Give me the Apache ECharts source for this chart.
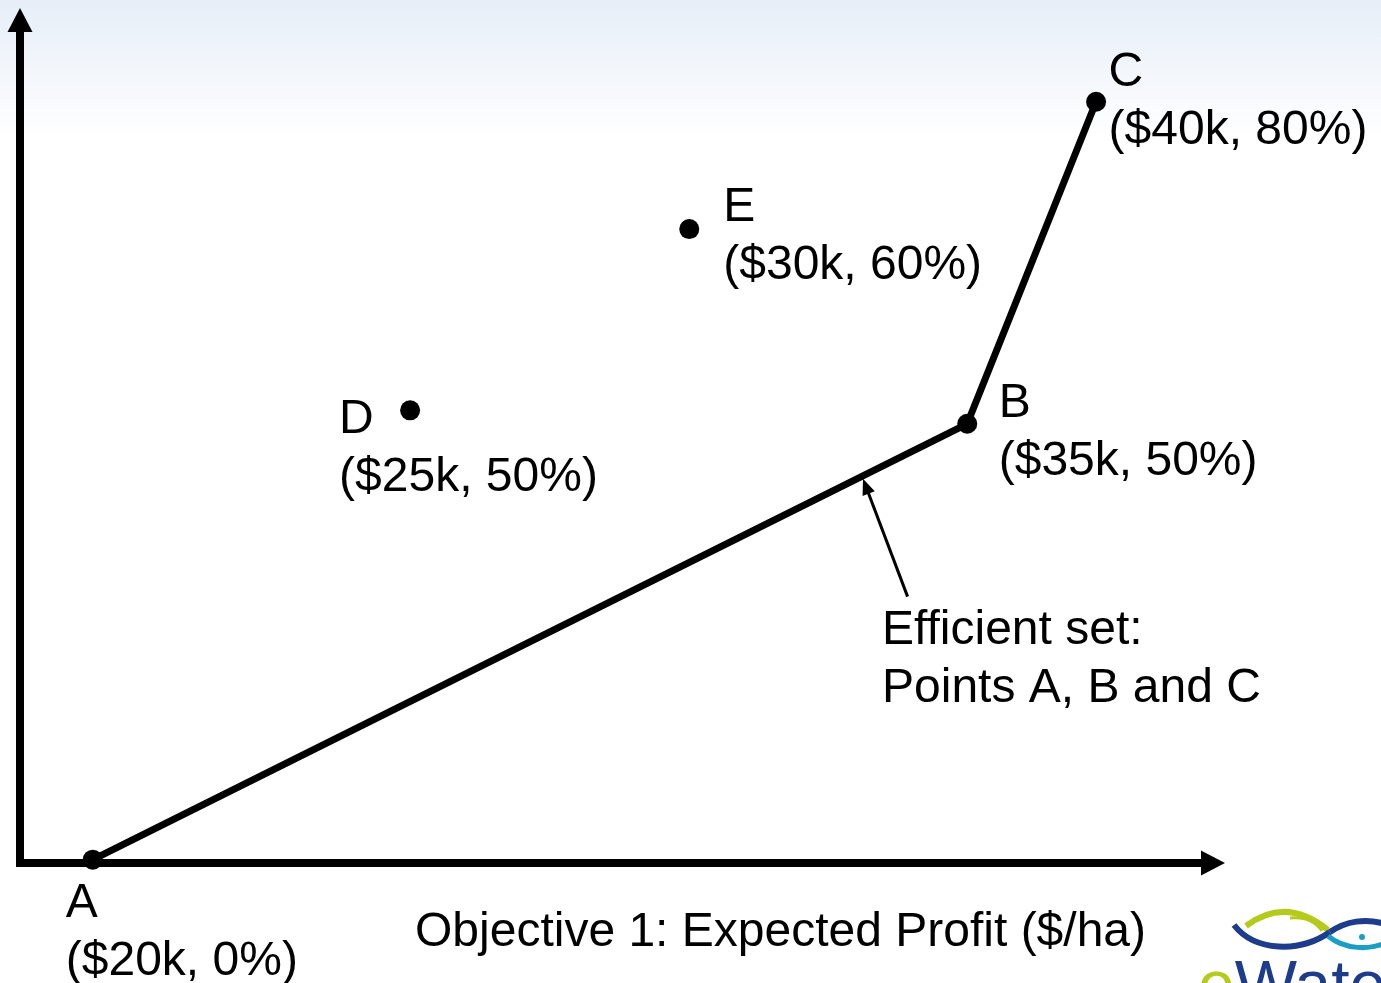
<!DOCTYPE html>
<html>
<head>
<meta charset="utf-8">
<title>Efficient set</title>
<script src="https://cdn.jsdelivr.net/npm/echarts@6/dist/echarts.min.js"></script>
<style>
  html, body { margin: 0; padding: 0; background: #fff; }
  #chart { width: 1381px; height: 983px; }
</style>
</head>
<body>
<div id="chart"></div>
<script>
// Sketch positions (0-100 on each axis, the drawing is schematic, not to scale)
const efficientNames = ['A', 'B', 'C'];
const efficientTexts = ['($20k, 0%)', '($35k, 50%)', '($40k, 80%)'];
const efficientX = [6.1, 79.4, 90.2];
const efficientY = [0.4, 52.1, 90.3];

const otherNames = ['D', 'E'];
const otherTexts = ['($25k, 50%)', '($30k, 60%)'];
const otherX = [32.7, 56.1];
const otherY = [53.7, 75.2];

// annotation arrow: from text up to the A-B segment
const pointerFrom = [74.4, 31.6];
const pointerTo = [70.9, 44.7];

const xAxisTitle = 'Objective 1: Expected Profit ($/ha)';
const noteLines = ['Efficient set:', 'Points A, B and C'];

// label placement around each dot, in px from the dot's box
const labelOffset = {
  A: [-17, 25],
  B: [41.5, -39],
  C: [22.5, -48],
  D: [-61, -10],
  E: [44, -40]
};

const FONT = '"Liberation Sans", Arial, sans-serif';
const DOT = 20;

const labelStyle = {
  show: true,
  color: '#000',
  fontFamily: FONT,
  fontSize: 48,
  lineHeight: 58
};

const makePoints = (names, texts, xs, ys) => names.map((n, i) => ({
  value: [xs[i], ys[i]],
  name: n,
  label: Object.assign({}, labelStyle, {
    position: labelOffset[n],
    formatter: n + '\n' + texts[i]
  })
}));

const chart = echarts.init(document.getElementById('chart'));

const axisCommon = {
  type: 'value',
  min: 0,
  max: 100,
  splitLine: { show: false },
  axisTick: { show: false },
  axisLabel: { show: false },
  axisLine: {
    show: true,
    symbol: ['none', 'triangle'],
    symbolSize: [25, 24],
    lineStyle: { color: '#000', width: 8, cap: 'square' }
  }
};

const green = '#b5cb1c';
const navy = '#1d3c8c';
const teal = '#1b9ec4';

chart.setOption({
  backgroundColor: {
    type: 'linear', x: 0, y: 0, x2: 0, y2: 1,
    colorStops: [
      { offset: 0, color: '#e6eef8' },
      { offset: 0.14, color: '#ffffff' },
      { offset: 1, color: '#ffffff' }
    ]
  },
  animation: false,
  grid: { left: 20, right: 168, top: 20, bottom: 120 },
  xAxis: Object.assign({}, axisCommon),
  yAxis: Object.assign({}, axisCommon),
  series: [
    {
      type: 'line',
      data: makePoints(efficientNames, efficientTexts, efficientX, efficientY),
      symbol: 'circle',
      symbolSize: DOT,
      showAllSymbol: true,
      lineStyle: { color: '#000', width: 7 },
      itemStyle: { color: '#000', opacity: 1 },
      z: 5,
      markLine: {
        silent: true,
        symbol: ['none', 'triangle'],
        symbolSize: [13, 16],
        label: { show: false },
        lineStyle: { color: '#000', width: 3, type: 'solid' },
        data: [[{ coord: pointerFrom }, { coord: pointerTo }]]
      }
    },
    {
      type: 'scatter',
      data: makePoints(otherNames, otherTexts, otherX, otherY),
      symbol: 'circle',
      symbolSize: DOT,
      itemStyle: { color: '#000', opacity: 1 }
    }
  ],
  graphic: [
    {
      type: 'text',
      x: 415,
      y: 933,
      style: {
        text: xAxisTitle,
        fill: '#000',
        fontFamily: FONT,
        fontSize: 48,
        verticalAlign: 'middle'
      }
    },
    {
      type: 'text',
      x: 882,
      y: 602,
      style: {
        text: noteLines.join('\n'),
        fill: '#000',
        fontFamily: FONT,
        fontSize: 48,
        lineHeight: 58,
        verticalAlign: 'top'
      }
    },
    // eWater logo, cut off by the corner
    { type: 'bezierCurve', silent: true,
      shape: { x1: 1246, y1: 926, cpx1: 1286, cpy1: 896, x2: 1328, y2: 930 },
      style: { fill: null, stroke: green, lineWidth: 6 } },
    { type: 'bezierCurve', silent: true,
      shape: { x1: 1290, y1: 918, cpx1: 1312, cpy1: 916, x2: 1322, y2: 931 },
      style: { fill: null, stroke: green, lineWidth: 3 } },
    { type: 'bezierCurve', silent: true,
      shape: { x1: 1234, y1: 925, cpx1: 1255, cpy1: 952, cpx2: 1300, cpy2: 953, x2: 1330, y2: 932 },
      style: { fill: null, stroke: navy, lineWidth: 6 } },
    { type: 'bezierCurve', silent: true,
      shape: { x1: 1330, y1: 932, cpx1: 1346, cpy1: 921, cpx2: 1366, cpy2: 918, x2: 1385, y2: 924 },
      style: { fill: null, stroke: navy, lineWidth: 6 } },
    { type: 'bezierCurve', silent: true,
      shape: { x1: 1328, y1: 936, cpx1: 1345, cpy1: 950, cpx2: 1370, cpy2: 950, x2: 1385, y2: 943 },
      style: { fill: null, stroke: teal, lineWidth: 5 } },
    { type: 'circle', silent: true, shape: { cx: 1362, cy: 937, r: 3 }, style: { fill: teal } },
    {
      type: 'text',
      silent: true,
      x: 1198,
      y: 989,
      style: {
        text: '{e|e}{w|Water}',
        verticalAlign: 'middle',
        rich: {
          e: { fill: green, fontFamily: FONT, fontSize: 66 },
          w: { fill: navy, fontFamily: FONT, fontSize: 66 }
        }
      }
    }
  ]
});
</script>
</body>
</html>
